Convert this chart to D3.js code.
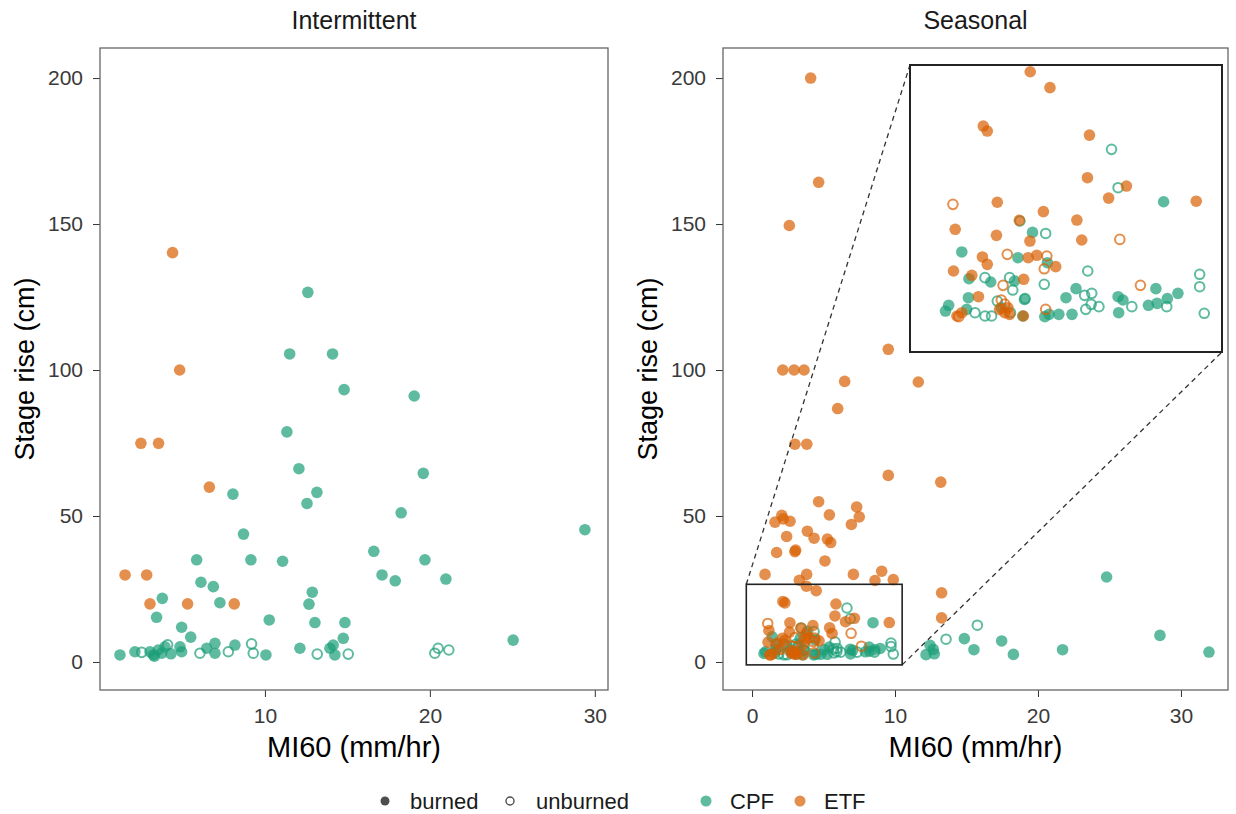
<!DOCTYPE html>
<html lang="en">
<head>
<meta charset="utf-8">
<title>Stage rise vs MI60</title>
<script src="https://d3js.org/d3.v7.min.js"></script>
<style>
  body { margin: 0; background: #fff; }
  svg text { font-family: "Liberation Sans", Arial, Helvetica, sans-serif; }
  .tick line { stroke: #333; }
  .tick text { fill: #3a3a3a; font-size: 21px; }
</style>
</head>
<body>
<script>
// ---- data: [MI60 (mm/hr), stage rise (cm)] ----
var intCPFburned = [[12.6,126.6],[11.5,105.5],[14.1,105.5],[14.8,93.3],[19.05,91.1],[11.33,78.8],[12.06,66.2],[19.6,64.6],
  [8.06,57.5],[13.15,58.1],[12.55,54.3],[18.26,51.1],[29.4,45.3],[8.7,43.8],[16.6,37.9],[5.86,35.0],[9.15,35.0],[11.07,34.5],
  [19.7,35.0],[6.12,27.3],[6.87,25.8],[3.78,21.8],[7.27,20.3],[3.43,15.3],[4.95,11.9],[5.5,8.5],[10.26,14.4],[12.87,23.9],
  [12.67,19.8],[13.03,13.5],[14.85,13.5],[14.75,8.1],[17.1,29.8],[17.9,27.8],[20.97,28.4],[25.05,7.5],[1.21,2.4],[2.12,3.5],
  [3.03,3.5],[3.23,2.4],[3.53,4.1],[3.74,3.0],[3.94,5.2],[4.85,5.2],[4.95,3.5],[3.3,2.0],[4.3,2.8],[6.47,4.7],[6.97,6.4],
  [6.97,3.0],[8.18,5.8],[10.06,2.4],[12.12,4.7],[13.94,4.7],[14.14,5.8],[14.24,2.4]];
var intCPFunburned = [[2.53,3.3],[4.1,5.9],[6.06,3.0],[7.78,3.5],[9.19,6.2],[9.29,3.0],[13.17,2.7],[15.05,2.7],[20.3,3.0],[20.5,4.7],[21.15,4.1]];
var intETFburned = [[4.4,140.2],[4.83,100],[2.48,74.9],[3.55,74.9],[6.63,59.9],[1.52,29.8],[2.83,29.8],[3.03,19.9],[5.31,19.9],[8.14,19.9]];
var intETFunburned = [];

var seaCPFburned = [[8.46,13.45],[3.88,10.5],[1.41,8.62],[3.37,8.07],[4.40,7.59],[1.66,6.05],[2.42,5.73],[3.25,5.83],[1.64,4.22],
  [3.6,4.06],[3.54,2.46],[0.84,2.94],[0.95,3.49],[1.58,3.1],[4.46,2.62],[4.80,2.62],[5.26,2.62],[4.31,2.4],[5.40,5.09],[5.05,4.22],
  [6.87,4.32],[7.04,4.0],[6.89,2.78],[8.19,5.09],[8.96,4.64],[8.59,4.13],[8.23,3.68],[7.93,3.49],[2.79,3.26],
  [12.45,5.7],[12.68,4.3],[12.17,2.5],[12.75,2.8],[14.85,8.0],[15.52,4.2],[17.46,7.2],[18.28,2.6],[21.72,4.2],[24.8,29.1],[28.53,9.1],[31.96,3.4]];
var seaCPFunburned = [[6.64,18.49],[6.87,14.80],[3.44,11.6],[4.34,10.4],[2.22,6.15],[3.08,6.15],[3.19,4.96],[4.29,5.51],[5.81,6.79],
  [2.65,3.9],[3.11,2.78],[1.87,2.78],[2.22,2.46],[2.45,2.46],[5.70,4.45],[5.95,4.64],[5.93,3.58],[5.74,3.1],[6.2,3.36],[7.35,3.36],
  [8.57,3.36],[9.72,6.47],[9.72,5.28],[9.88,2.72],[3.62,4.13],[13.57,7.8],[15.76,12.6]];
var seaETFburned = [[4.1,200],[4.66,164.3],[2.61,149.5],[9.53,107.1],[2.15,100],[2.94,100],[3.64,100],[6.48,96.1],[11.63,95.9],
  [5.99,86.8],[3.0,74.6],[3.83,74.6],[9.53,63.9],[13.2,61.6],[4.66,54.9],[7.32,53.1],[7.5,49.7],[6.95,47.1],[5.41,50.4],[2.08,50.2],
  [2.19,49.0],[1.61,47.9],[2.66,48.2],[2.42,43.0],[3.87,44.8],[4.34,42.4],[5.27,42.1],[5.5,40.9],[1.72,37.5],[3.0,37.8],[3.05,38.3],
  [5.1,34.6],[0.91,30.0],[3.82,30.0],[7.09,30.0],[9.07,31.1],[3.31,28.0],[8.6,27.9],[9.88,28.2],[13.26,23.7],[13.26,15.1],
  [3.80,25.95],[4.49,24.42],[2.16,20.73],[2.30,20.25],[5.87,19.86],[5.80,15.76],[7.16,14.96],[6.54,13.8],[9.6,13.5],[2.65,13.4],
  [4.26,12.5],[3.42,11.66],[5.43,11.69],[1.18,10.8],[2.62,10.22],[3.79,9.67],[5.6,9.77],[2.13,8.14],[2.30,7.43],[3.73,8.07],
  [4.03,8.3],[4.69,7.21],[1.12,6.79],[1.76,6.37],[3.57,5.99],[1.99,4.32],[3.02,3.26],[3.08,2.62],[2.73,3.1],[2.91,2.78],[3.56,2.46],
  [1.24,2.46],[1.41,2.78]];
var seaETFunburned = [[1.10,13.2],[6.93,9.83],[3.0,8.39],[4.38,8.23],[4.29,7.0],[2.85,5.41],[2.79,4.0],[2.91,3.6],[1.3,2.4],[4.34,3.1],[7.65,5.41]];

var panels = ["Intermittent", "Seasonal"];
var sites = ["CPF", "ETF"];
var burnLevels = ["burned", "unburned"];
var yTicks = [0, 50, 100, 150, 200];
var xTicksInt = [10, 20, 30];
var xTicksSea = [0, 10, 20, 30];
var yDomain = [-9.6, 210.3];
var xDomainInt = [0, 30.8];
var xDomainSea = [-2.03, 33.29];
var zoomX = [-0.4, 10.5];   // magnified region in Seasonal panel
var zoomY = [-1, 26.6];

// ---- layout ----
var w = 1236, h = 814;
var plotTop = 48, plotBottom = 690;
var r = 5.8;

var svg = d3.select("body").append("svg").attr("width", w).attr("height", h);

var color = d3.scaleOrdinal().domain(sites).range(["#1b9e77", "#d95f02"]);

function groups(prefix) {
  var src = prefix == "int"
    ? [intCPFburned, intCPFunburned, intETFburned, intETFunburned]
    : [seaCPFburned, seaCPFunburned, seaETFburned, seaETFunburned];
  var out = [];
  [["CPF","burned"],["CPF","unburned"],["ETF","burned"],["ETF","unburned"]].forEach(function(k, i) {
    src[i].forEach(function(p) { out.push({site: k[0], burn: k[1], x: p[0], y: p[1]}); });
  });
  return out;
}

function drawPoints(g, data, xs, ys) {
  g.selectAll("circle.pt")
    .data(data)
    .enter()
    .append("circle")
    .attr("class", "pt")
    .attr("cx", function(d) { return xs(d.x); })
    .attr("cy", function(d) { return ys(d.y); })
    .attr("r", function(d) { return d.burn == "burned" ? r : r - 1; })
    .attr("fill", function(d) { return d.burn == "burned" ? color(d.site) : "none"; })
    .attr("stroke", function(d) { return d.burn == "burned" ? "none" : color(d.site); })
    .attr("stroke-width", 2)
    .attr("opacity", 0.7);
}

function panel(name, left, right, xDomain, xTicks, data) {
  var xScale = d3.scaleLinear().domain(xDomain).range([left, right]);
  var yScale = d3.scaleLinear().domain(yDomain).range([plotBottom, plotTop]);
  var g = svg.append("g");

  var xAxis = d3.axisBottom(xScale).tickValues(xTicks).tickSize(7).tickPadding(11);
  var yAxis = d3.axisLeft(yScale).tickValues(yTicks).tickSize(7).tickPadding(10);

  g.append("g").attr("transform", "translate(0," + plotBottom + ")").call(xAxis)
    .call(function(a) { a.select(".domain").remove(); });
  g.append("g").attr("transform", "translate(" + left + ",0)").call(yAxis)
    .call(function(a) { a.select(".domain").remove(); });

  drawPoints(g.append("g"), data, xScale, yScale);

  g.append("rect")
    .attr("x", left).attr("y", plotTop)
    .attr("width", right - left).attr("height", plotBottom - plotTop)
    .attr("fill", "none").attr("stroke", "#666").attr("stroke-width", 1.3);

  // strip title
  g.append("text").attr("x", (left + right) / 2).attr("y", 29)
    .attr("text-anchor", "middle").attr("font-size", "25px").attr("fill", "#1a1a1a")
    .text(name);
  // axis titles
  g.append("text").attr("x", (left + right) / 2).attr("y", 757)
    .attr("text-anchor", "middle").attr("font-size", "29px").attr("fill", "#000")
    .text("MI60 (mm/hr)");
  g.append("text")
    .attr("transform", "translate(" + (left - 66) + "," + ((plotTop + plotBottom) / 2) + ") rotate(-90)")
    .attr("text-anchor", "middle").attr("font-size", "27px").attr("fill", "#000")
    .text("Stage rise (cm)");

  return {x: xScale, y: yScale, g: g};
}

panel(panels[0], 100, 608, xDomainInt, xTicksInt, groups("int"));
var sea = panel(panels[1], 723, 1228, xDomainSea, xTicksSea, groups("sea"));

// ---- magnified inset ----
var seaData = groups("sea");
var srcX0 = sea.x(zoomX[0]), srcX1 = sea.x(zoomX[1]);
var srcY0 = sea.y(zoomY[1]), srcY1 = sea.y(zoomY[0]);
var ins = {x0: 910, y0: 65, x1: 1222, y1: 352};

var dash = svg.append("g").attr("stroke", "#333").attr("stroke-width", 1.3).attr("stroke-dasharray", "5,4");
dash.append("line").attr("x1", srcX0).attr("y1", srcY0).attr("x2", ins.x0).attr("y2", ins.y0);
dash.append("line").attr("x1", srcX1).attr("y1", srcY1).attr("x2", ins.x1).attr("y2", ins.y1);

svg.append("rect")
  .attr("x", srcX0).attr("y", srcY0)
  .attr("width", srcX1 - srcX0).attr("height", srcY1 - srcY0)
  .attr("fill", "none").attr("stroke", "#222").attr("stroke-width", 1.6);

var ixScale = d3.scaleLinear().domain(zoomX).range([ins.x0, ins.x1]);
var iyScale = d3.scaleLinear().domain(zoomY).range([ins.y1, ins.y0]);

svg.append("clipPath").attr("id", "insetClip")
  .append("rect").attr("x", ins.x0).attr("y", ins.y0)
  .attr("width", ins.x1 - ins.x0).attr("height", ins.y1 - ins.y0);

svg.append("rect").attr("x", ins.x0).attr("y", ins.y0)
  .attr("width", ins.x1 - ins.x0).attr("height", ins.y1 - ins.y0)
  .attr("fill", "#fff");
var inset = svg.append("g").attr("clip-path", "url(#insetClip)");
drawPoints(inset, seaData.filter(function(d) {
  return d.x >= zoomX[0] - 0.3 && d.x <= zoomX[1] + 0.3 && d.y >= zoomY[0] - 1 && d.y <= zoomY[1] + 1;
}), ixScale, iyScale);
svg.append("rect").attr("x", ins.x0).attr("y", ins.y0)
  .attr("width", ins.x1 - ins.x0).attr("height", ins.y1 - ins.y0)
  .attr("fill", "none").attr("stroke", "#222").attr("stroke-width", 2);

// ---- legend ----
var leg = svg.append("g").attr("font-size", "22px");
var legY = 801;
leg.append("circle").attr("cx", 385).attr("cy", legY).attr("r", 4.5).attr("fill", "#4d4d4d");
leg.append("text").attr("x", 410).attr("y", legY + 8).text(burnLevels[0]).attr("fill", "#1a1a1a");
leg.append("circle").attr("cx", 510).attr("cy", legY).attr("r", 4).attr("fill", "none")
  .attr("stroke", "#4d4d4d").attr("stroke-width", 1.4);
leg.append("text").attr("x", 536).attr("y", legY + 8).text(burnLevels[1]).attr("fill", "#1a1a1a");
sites.forEach(function(s, i) {
  var cx = 706 + i * 94;
  leg.append("circle").attr("cx", cx).attr("cy", legY).attr("r", 5.5)
    .attr("fill", color(s)).attr("opacity", 0.7);
  leg.append("text").attr("x", cx + 24).attr("y", legY + 8).text(s).attr("fill", "#1a1a1a");
});
</script>
</body>
</html>
